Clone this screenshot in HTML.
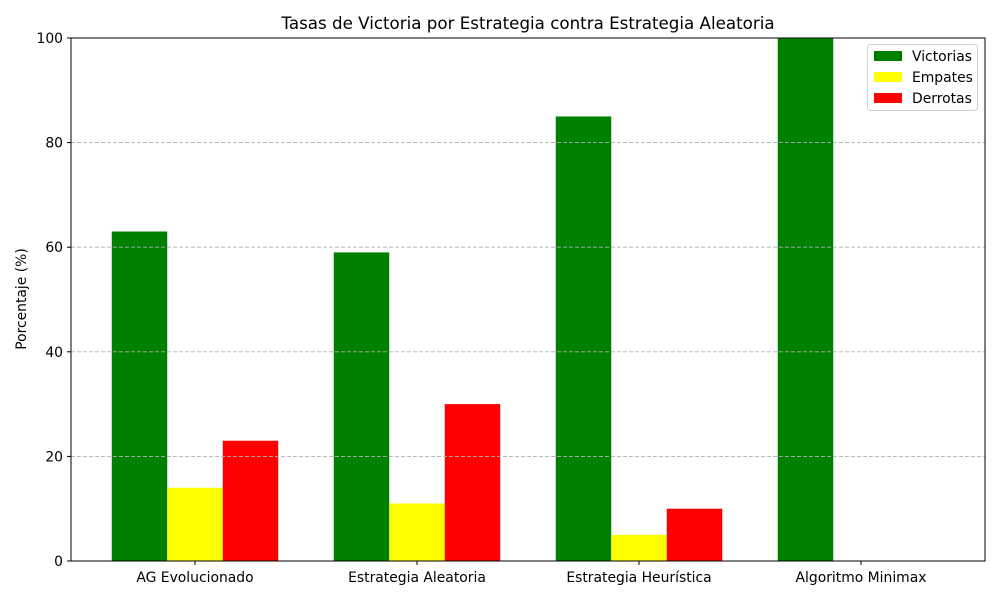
<!DOCTYPE html>
<html><head><meta charset="utf-8"><style>
body{margin:0;background:#fff}
svg text{font-family:"DejaVu Sans","Liberation Sans",sans-serif;fill:#000}
</style></head><body>
<svg id="c" width="1000" height="600"></svg>
<script>
const categories=["AG Evolucionado","Estrategia Aleatoria","Estrategia Heurística","Algoritmo Minimax"];
const victorias=[63,59,85,100];
const empates=[14,11,5,0];
const derrotas=[23,30,10,0];
const yTicks=[0,20,40,60,80,100];
const seriesNames=["Victorias","Empates","Derrotas"];
const colors=["#008000","#ffff00","#ff0000"];
const L=71,R=985,T=38,B=561;
const NS="http://www.w3.org/2000/svg";
const svg=document.getElementById('c');
function y(v){return B-(v/100)*(B-T);}
function xc(i){return 195+222*i;}
const bw=55.5;
function mk(t,a,p){const e=document.createElementNS(NS,t);for(const k in a)e.setAttribute(k,a[k]);(p||svg).appendChild(e);return e;}
const series=[victorias,empates,derrotas];
series.forEach((s,si)=>{s.forEach((v,i)=>{
 const r=mk('rect',{x:xc(i)+(si-1)*bw-bw/2,y:y(v),width:bw,height:B-y(v),fill:colors[si]});
 
 
});});
yTicks.forEach(t=>{
 if(t>0&&t<100){const g=mk('line',{x1:L,x2:R,y1:y(t),y2:y(t),stroke:'#b0b0b0','stroke-width':0.9,'stroke-dasharray':'4,2'});
 }
 mk('line',{x1:L-4,x2:L,y1:y(t),y2:y(t),stroke:'#000'});
 const tx=mk('text',{x:L-8,y:y(t)+5,'text-anchor':'end','font-size':13.9});tx.textContent=t;
 
});
categories.forEach((c,i)=>{
 mk('line',{x1:xc(i),x2:xc(i),y1:B,y2:B+4,stroke:'#000'});
 const tx=mk('text',{x:xc(i),y:B+21,'text-anchor':'middle','font-size':13.9});tx.textContent=c;
 
});
const fr=mk('rect',{x:L,y:T,width:R-L,height:B-T,fill:'none',stroke:'#000','stroke-width':1});

const ti=mk('text',{x:(L+R)/2,y:29,'text-anchor':'middle','font-size':16.7});ti.textContent="Tasas de Victoria por Estrategia contra Estrategia Aleatoria";

const yl=mk('text',{x:0,y:0,'text-anchor':'middle','font-size':13.9,transform:'translate(26,299) rotate(-90)'});yl.textContent="Porcentaje (%)";

const lg=mk('g',{});
mk('rect',{x:867.5,y:44.5,width:110,height:66,rx:3,fill:'#fff',stroke:'#ccc',opacity:0.9},lg);
seriesNames.forEach((n,i)=>{
 const yy=51+i*21;
 const sw=mk('rect',{x:874,y:yy,width:28,height:10,fill:colors[i]},lg);
 
 const t=mk('text',{x:912,y:yy+10,'font-size':13.9},lg);t.textContent=n;
 
});
</script>
</body></html>
